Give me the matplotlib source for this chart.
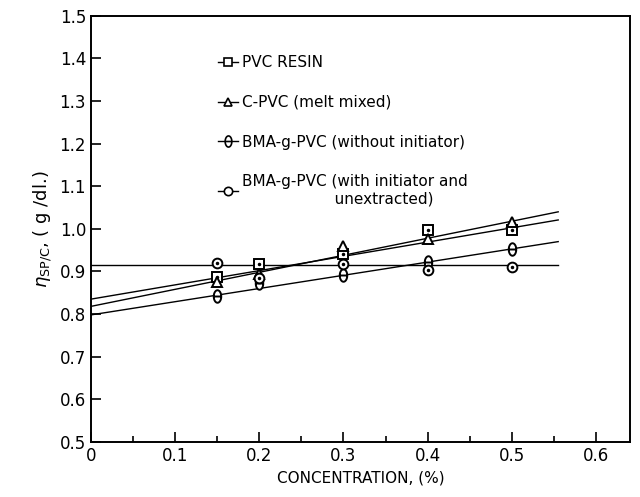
import numpy as np
import matplotlib
matplotlib.use('Agg')
import matplotlib.pyplot as plt
from matplotlib.path import Path
from matplotlib.ticker import MultipleLocator, FuncFormatter

# Data
konsentrasi = [0.15, 0.2, 0.3, 0.4, 0.5]
pvc_resin = [0.888, 0.917, 0.940, 0.997, 0.997]
c_pvc = [0.876, 0.895, 0.960, 0.977, 1.017]
bma_tanpa = [0.843, 0.873, 0.892, 0.923, 0.952]
bma_dengan = [0.921, 0.885, 0.917, 0.904, 0.911]

label_seri = ['PVC RESIN', 'C-PVC (melt mixed)', 'BMA-g-PVC (without initiator)',
              'BMA-g-PVC (with initiator and\n                   unextracted)']

# Garis regresi (intercept, slope)
intercept = [0.835, 0.818, 0.798, 0.915]
slope = [0.335, 0.400, 0.310, 0.0]
x_garis = [0.0, 0.555]

# marker theta: oval tegak dengan garis mendatar
t = np.linspace(0, 2 * np.pi, 40)
verts = list(zip(0.6 * np.cos(t), np.sin(t))) + [(-0.6, 0), (0.6, 0)]
codes = [Path.MOVETO] + [Path.LINETO] * 39 + [Path.MOVETO, Path.LINETO]
theta_marker = Path(verts, codes)

plt.rcParams['font.family'] = ['DejaVu Sans']
fig = plt.figure(figsize=(6.4, 4.97), dpi=100)
ax = fig.add_axes([0.142, 0.111, 0.842, 0.857])

seri = [pvc_resin, c_pvc, bma_tanpa, bma_dengan]
marker = ['s', '^', theta_marker, 'o']
ukuran = [7, 7, 9, 7]
for y, m, s, lab in zip(seri, marker, ukuran, label_seri):
    ax.plot(konsentrasi, y, linestyle='none', marker=m, markersize=s,
            markerfacecolor='white', markeredgecolor='black', markeredgewidth=1.4,
            color='black', zorder=3)
# titik kecil di tengah kotak dan lingkaran
for y in [pvc_resin, bma_dengan]:
    ax.plot(konsentrasi, y, linestyle='none', marker='o', markersize=1.5,
            color='black', zorder=4)

xg = np.array(x_garis)
for b, a in zip(intercept, slope):
    ax.plot(xg, b + a * xg, color='black', linewidth=1.0, zorder=2)

# handle legenda: garis pendek + marker
leg_handles = []
for m, s in zip(marker, ukuran):
    h, = ax.plot([], [], color='black', linewidth=1.0, marker=m, markersize=s - 1,
                 markerfacecolor='white', markeredgecolor='black', markeredgewidth=1.2)
    leg_handles.append(h)
ax.legend(leg_handles, label_seri, loc='upper left', bbox_to_anchor=(0.21, 0.94),
          frameon=False, handlelength=1.3, handletextpad=0.3, labelspacing=1.62,
          fontsize=11)

ax.set_xlim(0, 0.64)
ax.set_ylim(0.5, 1.5)
ax.xaxis.set_major_locator(MultipleLocator(0.1))
ax.xaxis.set_minor_locator(MultipleLocator(0.05))
ax.yaxis.set_major_locator(MultipleLocator(0.1))
ax.xaxis.set_major_formatter(FuncFormatter(lambda v, p: '0' if abs(v) < 1e-9 else f'{v:.1f}'))
ax.yaxis.set_major_formatter(FuncFormatter(lambda v, p: f'{v:.1f}'))
ax.tick_params(which='both', direction='in', top=False, right=False, labelsize=12, width=1.2)
ax.tick_params(which='major', length=7)
ax.tick_params(which='minor', length=4)
for sp in ax.spines.values():
    sp.set_linewidth(1.4)

ax.set_xlabel('CONCENTRATION, (%)', fontsize=11)
ax.set_ylabel(r'$\eta_{\mathrm{SP/C}}$, ( g /dl.)', fontsize=13)

fig.savefig('out.png', dpi=100)
